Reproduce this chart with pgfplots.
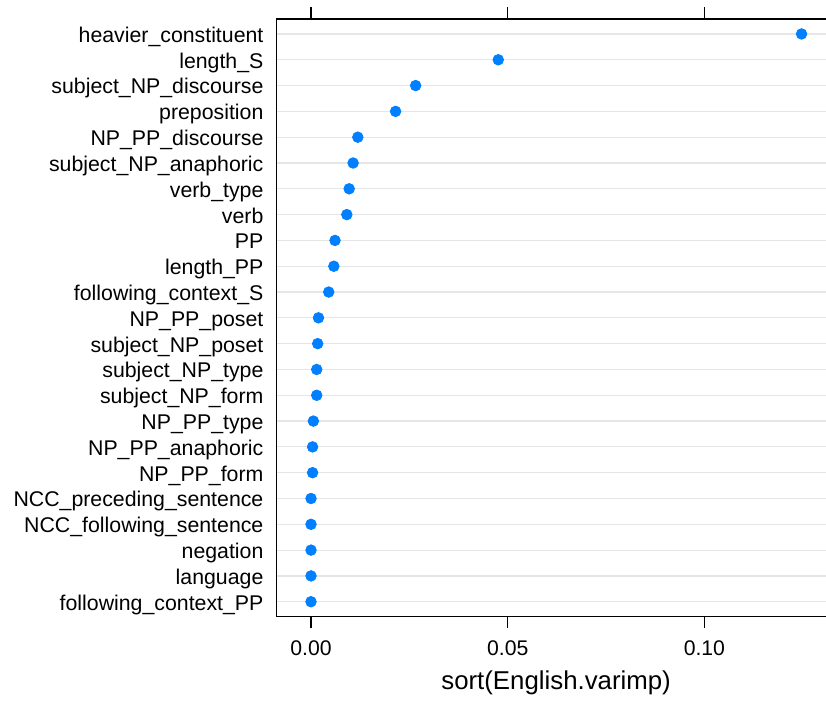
\documentclass[border=0pt]{standalone}
\usepackage{fontspec}
\setmainfont{Liberation Sans}
\usepackage{pgfplots}
\pgfplotsset{compat=1.18}
\usetikzlibrary{calc}
\definecolor{dotblue}{HTML}{0080FF}
\definecolor{gridgray}{HTML}{E6E6E6}
\begin{document}
\begin{tikzpicture}
\begin{axis}[
  name=ax,
  scale only axis,
  width=279.9pt, height=298.85pt,
  xmin=-0.00885, xmax=0.13345,
  ymin=0.42, ymax=23.58,
  xtick={0,0.05,0.1},
  xticklabels={0.00,0.05,0.10},
  xtick pos=both,
  tick align=outside,
  major tick length=5.8pt,
  every tick/.style={black, line width=0.55pt},
  ytick={1,...,23},
  yticklabels={following\_context\_PP,language,negation,NCC\_following\_sentence,NCC\_preceding\_sentence,NP\_PP\_form,NP\_PP\_anaphoric,NP\_PP\_type,subject\_NP\_form,subject\_NP\_type,subject\_NP\_poset,NP\_PP\_poset,following\_context\_S,length\_PP,PP,verb,verb\_type,subject\_NP\_anaphoric,NP\_PP\_discourse,preposition,subject\_NP\_discourse,length\_S,heavier\_constituent},
  ytick style={draw=none},
  ymajorgrids,
  major grid style={gridgray, line width=0.6pt},
  axis line style={black, line width=0.6pt},
  /pgf/number format/assume math mode=true,
  xticklabel style={font=\fontsize{10.6}{12}\selectfont, anchor=center, inner sep=0pt, yshift=-9.85pt},
  yticklabel style={font=\fontsize{10.65}{12}\selectfont, anchor=base east, inner sep=0pt, xshift=-0.4pt, yshift=-4.2pt},
  xlabel={sort(English.varimp)},
  xlabel style={font=\fontsize{12.9}{14}\selectfont, at={(axis description cs:0.5,0)}, anchor=center, yshift=-33.15pt},
]
\addplot[only marks, mark=*, mark size=2.65pt, mark options={draw=dotblue, fill=dotblue}] coordinates {
  (0.1247,23)
  (0.0476,22)
  (0.0266,21)
  (0.0215,20)
  (0.0119,19)
  (0.0107,18)
  (0.0097,17)
  (0.0091,16)
  (0.0061,15)
  (0.0058,14)
  (0.0045,13)
  (0.0019,12)
  (0.0017,11)
  (0.00145,10)
  (0.00145,9)
  (0.0006,8)
  (0.0004,7)
  (0.0004,6)
  (0.0000,5)
  (0.0000,4)
  (0.0000,3)
  (0.0000,2)
  (0.0000,1)
};
\end{axis}
\pgfresetboundingbox
\path[use as bounding box] ($(ax.south west)+(-138.1pt,-42.65pt)$) rectangle ($(ax.north east)+(-5pt,9.5pt)$);
\end{tikzpicture}
\end{document}
